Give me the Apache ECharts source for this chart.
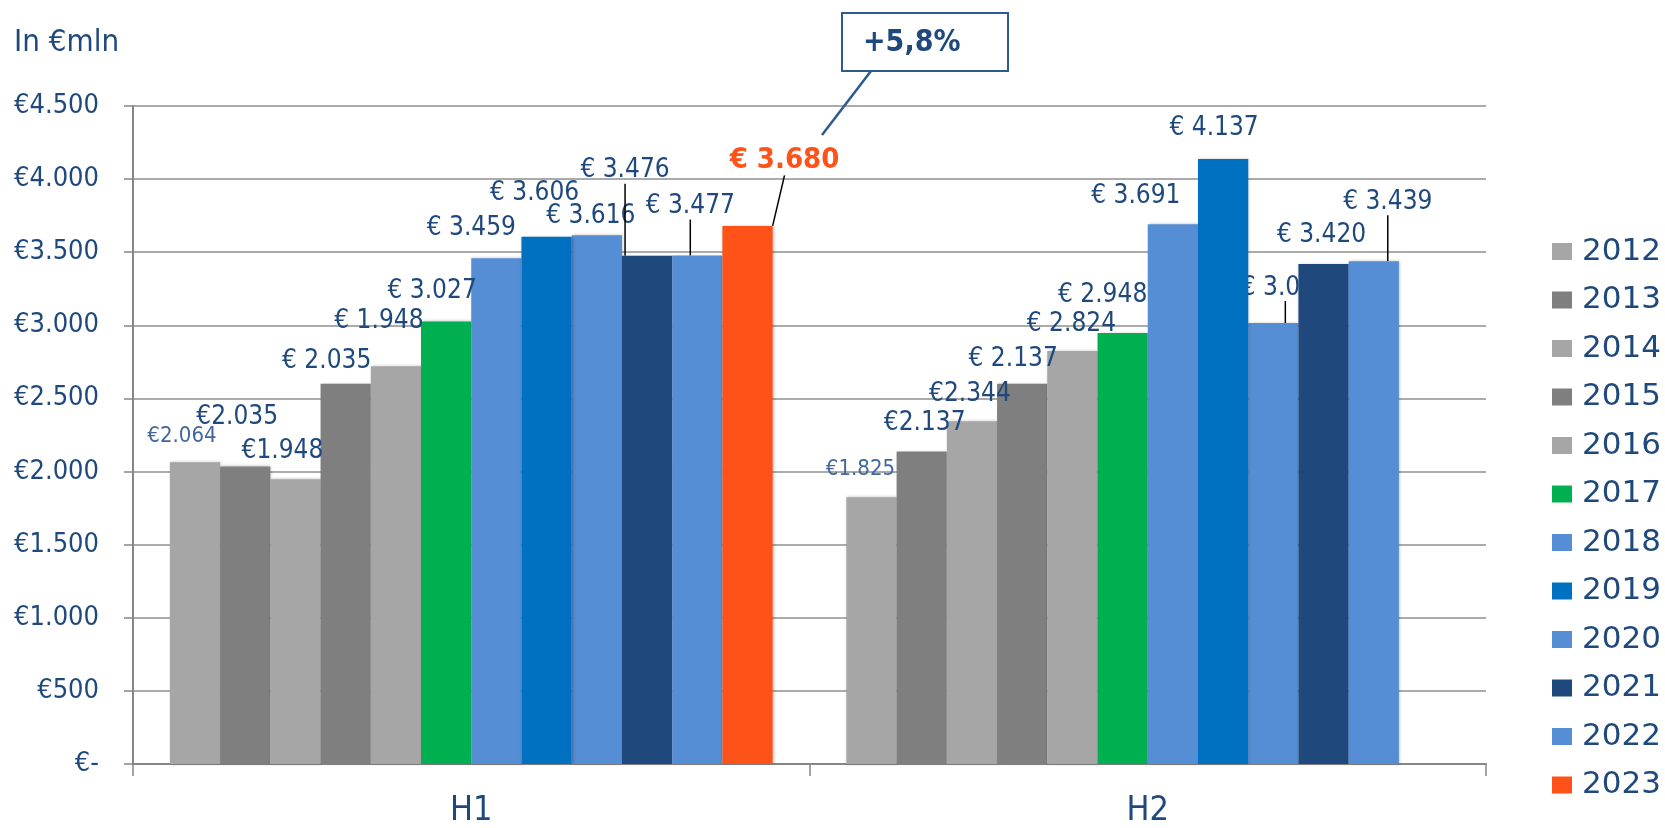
<!DOCTYPE html>
<html>
<head>
<meta charset="utf-8">
<title>H1 / H2</title>
<script src="https://cdn.jsdelivr.net/npm/echarts@6/dist/echarts.min.js"></script>
<style>
    html, body { margin: 0; padding: 0; background: #fff; }
    #myEchart { width: 1665px; height: 828px; }
</style>
</head>
<body>
<div id="myEchart"></div>
<script>
var categories = ['H1', 'H2'];
var years = ['2012', '2013', '2014', '2015', '2016', '2017', '2018', '2019', '2020', '2021', '2022', '2023'];
var h1Values = [2064, 2035, 1948, 2600, 2720, 3027, 3459, 3606, 3616, 3476, 3477, 3680];
var h2Values = [1825, 2137, 2344, 2600, 2824, 2948, 3691, 4137, 3016, 3420, 3439, null];
// label texts as printed on the original slide (some do not match the bar)
var h1Labels = ['€2.064', '€2.035', '€1.948', '€ 2.035', '€ 1.948', '€ 3.027', '€ 3.459', '€ 3.606', '€ 3.616', '€ 3.476', '€ 3.477', '€ 3.680'];
var h2Labels = ['€1.825', '€2.137', '€2.344', '€ 2.137', '€ 2.824', '€ 2.948', '€ 3.691', '€ 4.137', '€ 3.016', '€ 3.420', '€ 3.439', ''];
var yMin = 0, yMax = 4500, yStep = 500;
var calloutText = '+5,8%';

var colors = ['#a6a6a6', '#7f7f7f', '#a6a6a6', '#7f7f7f', '#a6a6a6', '#00b050', '#558ed5', '#0070c0', '#558ed5', '#1f497d', '#558ed5', '#ff5219'];
var textBlue = '#1f497d';
var condensed = "'DejaVu Sans Condensed', 'DejaVu Sans', sans-serif";

// label placement: offset of label centre from the bar top centre [H1, H2]
var labelShift = [
    [[-13, -26], [-11, -28]],
    [[-8, -49], [3, -28]],
    [[-13, -28], [-2, -27]],
    [[-19, -23], [-9, -25]],
    [[-17, -45], [-1, -27]],
    [[-14, -30], [-20, -38]],
    [[-25, -30], [-37, -28]],
    [[-12, -43], [-9, -31]],
    [[-6, -19], [12, -35]],
    [[-22, -85], [-2, -29]],
    [[-7, -49], [14, -59]],
    [[37, -65], [0, 0]]
];
var withLine = {'9-0': true, '10-0': true, '11-0': true, '8-1': true, '10-1': true};

var chart = echarts.init(document.getElementById('myEchart'));

var series = [];
for (var i = 0; i < years.length; i++) {
    var items = [];
    var vals = [h1Values[i], h2Values[i]];
    var txts = [h1Labels[i], h2Labels[i]];
    for (var j = 0; j < categories.length; j++) {
        var lab = {formatter: txts[j]};
        if (i === 0) {
            lab.color = '#41679e';
            lab.fontSize = 22;
        }
        if (i === 11) {
            lab.color = '#ff5219';
            lab.fontWeight = 'bold';
            lab.fontSize = 29;
        }
        items.push({
            value: vals[j],
            label: lab,
            labelLine: {show: !!withLine[i + '-' + j]}
        });
    }
    series.push({
        name: years[i],
        type: 'bar',
        z: i === 8 ? 1 : 2,   // 2020 label sits behind the 2021 bar, as on the slide
        barGap: 0,
        barCategoryGap: '10.9%',
        itemStyle: {
            color: colors[i],
            shadowColor: 'rgba(0,0,0,0.25)',
            shadowBlur: 3,
            shadowOffsetX: 1
        },
        label: {
            show: true,
            position: 'top',
            color: textBlue,
            fontFamily: condensed,
            fontSize: 26
        },
        labelLine: {
            show: false,
            lineStyle: {color: '#000', width: 1.5}
        },
        labelLayout: (function (si) {
            return function (p) {
                var d = labelShift[si][p.dataIndex];
                var top = Math.min(p.rect.y, p.rect.y + p.rect.height);
                return {
                    x: p.rect.x + p.rect.width / 2 + d[0],
                    y: top + d[1],
                    align: 'center',
                    verticalAlign: 'middle'
                };
            };
        })(i),
        emphasis: {disabled: true},
        data: items
    });
}

var option = {
    animation: false,
    title: {
        text: 'In €mln',
        left: 9,
        top: 22,
        textStyle: {color: textBlue, fontFamily: condensed, fontSize: 31, fontWeight: 'normal'}
    },
    legend: {
        orient: 'vertical',
        left: 1547,
        top: 231,
        itemWidth: 20,
        itemHeight: 17,
        itemGap: 17.5,
        icon: 'rect',
        data: years,
        textStyle: {color: textBlue, fontFamily: "'DejaVu Sans', sans-serif", fontSize: 31, padding: [0, 0, 0, 5]}
    },
    grid: {
        left: 133,
        right: 179,
        top: 106,
        bottom: 64,
        containLabel: false
    },
    xAxis: {
        type: 'category',
        data: categories,
        axisLine: {lineStyle: {color: '#868686', width: 2}},
        axisTick: {show: true, length: 12, lineStyle: {color: '#868686', width: 1.5}},
        axisLabel: {color: textBlue, fontFamily: condensed, fontSize: 34, margin: 30}
    },
    yAxis: {
        type: 'value',
        min: yMin,
        max: yMax,
        interval: yStep,
        axisLine: {show: true, lineStyle: {color: '#868686', width: 2}},
        axisTick: {show: true, length: 9, lineStyle: {color: '#868686', width: 1.5}},
        splitLine: {lineStyle: {color: '#8f8f8f', width: 1.5}},
        axisLabel: {
            color: textBlue,
            fontFamily: condensed,
            fontSize: 27,
            margin: 34,
            formatter: function (v) {
                if (v === 0) return '€-';
                return '€' + String(v).replace(/\B(?=(\d{3})+(?!\d))/g, '.');
            }
        }
    },
    graphic: [
        {
            type: 'line',
            shape: {x1: 871, y1: 71, x2: 822, y2: 135},
            style: {stroke: '#2e5a8f', lineWidth: 2.5},
            z: 10
        },
        {
            type: 'rect',
            shape: {x: 842, y: 13, width: 166, height: 58},
            style: {fill: '#fff', stroke: '#2e5a8f', lineWidth: 2},
            z: 11
        },
        {
            type: 'text',
            left: 863,
            top: 28,
            style: {text: calloutText, fill: textBlue, font: "bold 30px " + condensed},
            z: 12
        }
    ],
    series: series
};

chart.setOption(option);
</script>
</body>
</html>
